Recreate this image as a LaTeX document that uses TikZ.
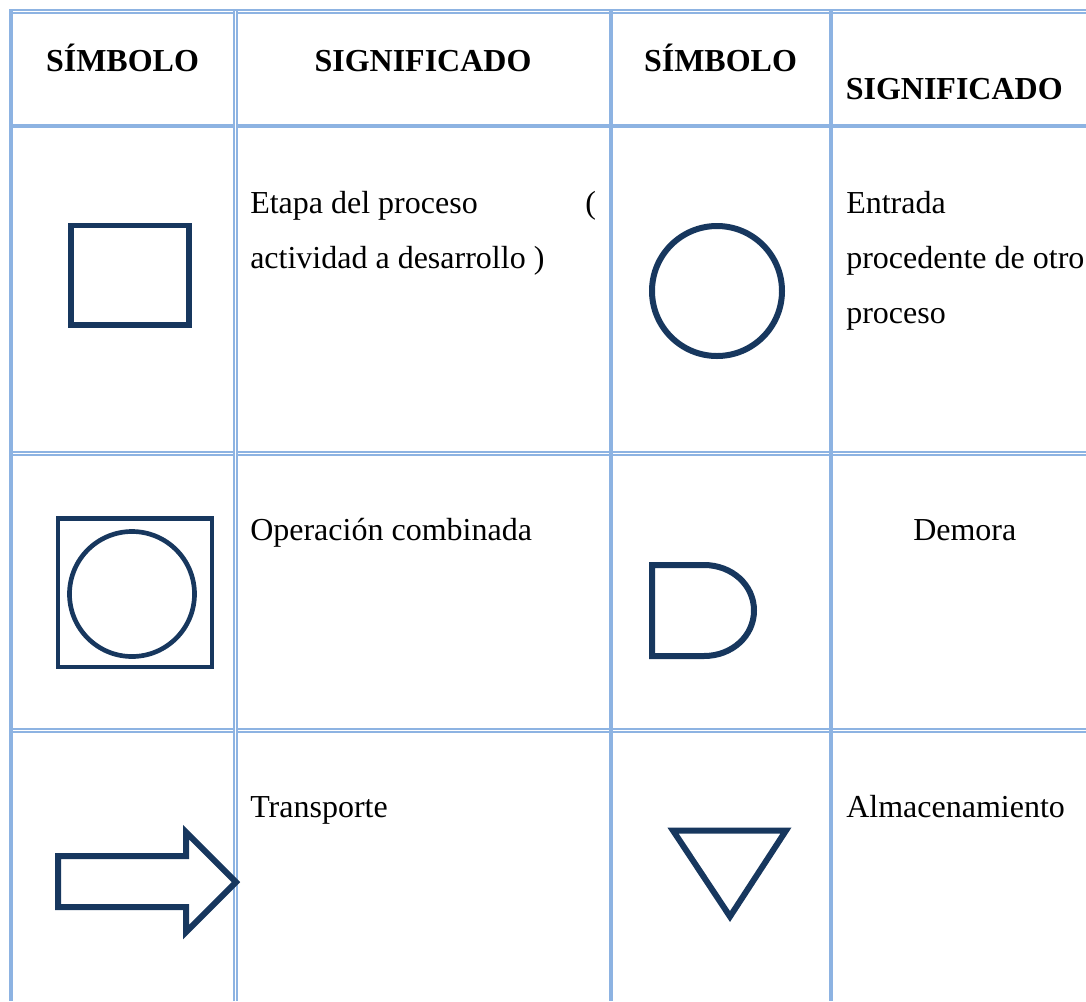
\documentclass[tikz,border=0pt]{standalone}
\usepackage{fontspec}
\setmainfont{Liberation Serif}
\definecolor{gridblue}{HTML}{8DB3E2}
\definecolor{symblue}{HTML}{17375E}
\tikzset{
  x=0.75pt,y=-0.75pt,
  solidrule/.style={draw=gridblue,line width=3pt},
  doublerule/.style={draw=gridblue,line width=1.2pt,double=white,double distance=1.2pt},
  sym/.style={draw=symblue,line join=miter,fill=none},
  body/.style={inner sep=0pt,anchor=base west,font=\fontsize{24}{28}\selectfont,text=black},
  head/.style={inner sep=0pt,anchor=base,font=\fontsize{24}{28}\selectfont\bfseries,text=black},
}
\begin{document}
\begin{tikzpicture}
\useasboundingbox (0,0) rectangle (1086,1001);
\clip (0,0) rectangle (1086,1001);
% grid: horizontal rules
\draw[doublerule] (9,11.5) -- (1086,11.5);
\draw[solidrule] (9,126) -- (1086,126);
\draw[doublerule] (9,453.5) -- (1086,453.5);
\draw[doublerule] (9,730.5) -- (1086,730.5);
% grid: vertical rules
\draw[solidrule] (10.5,9) -- (10.5,1001);
\draw[doublerule] (235.5,11) -- (235.5,1001);
\draw[solidrule] (611,11) -- (611,1001);
\draw[solidrule] (831,11) -- (831,1001);
% headings
\node[head] (h1) at (122.5,71.7) {SÍMBOLO};
\node[head] (h2) at (423,71.7) {SIGNIFICADO};
\node[head] (h3) at (720.5,71.7) {SÍMBOLO};
\node[head,anchor=base west] (h4) at (845.5,99.7) {SIGNIFICADO};
% body text
\node[body] (t1a) at (250,213.7) {Etapa del proceso};
\node[body] (t1b) at (585,213.7) {(};
\node[body] (t1c) at (250,268.7) {actividad a desarrollo )};
\node[body] (t2a) at (846,213.7) {Entrada};
\node[body] (t2b) at (846,268.7) {procedente de otro};
\node[body] (t2c) at (846,323.7) {proceso};
\node[body] (t3) at (250,540.7) {Operación combinada};
\node[body] (t4) at (913,540.7) {Demora};
\node[body] (t5) at (250,817.7) {Transporte};
\node[body] (t6) at (846,817.7) {Almacenamiento};
% symbols
\draw[sym,line width=4pt] (71,225.5) rectangle (189,325);
\draw[sym,line width=4.5pt] (717,291) circle (65);
\draw[sym,line width=3.5pt] (58,518.5) rectangle (212,667);
\draw[sym,line width=3.5pt] (132,594) circle (62.5);
\draw[sym,line width=4.5pt] (652,565) -- (704,565) .. controls (732,565) and (754,585) .. (754,610.5) .. controls (754,636) and (732,656) .. (704,656) -- (652,656) -- cycle;
\draw[sym,line width=4.5pt] (58,856) -- (186,856) -- (186,832) -- (236,882) -- (186,932) -- (186,907) -- (58,907) -- cycle;
\draw[sym,line width=4.5pt] (673,830.5) -- (786,830.5) -- (730,916.5) -- cycle;
\end{tikzpicture}
\end{document}
